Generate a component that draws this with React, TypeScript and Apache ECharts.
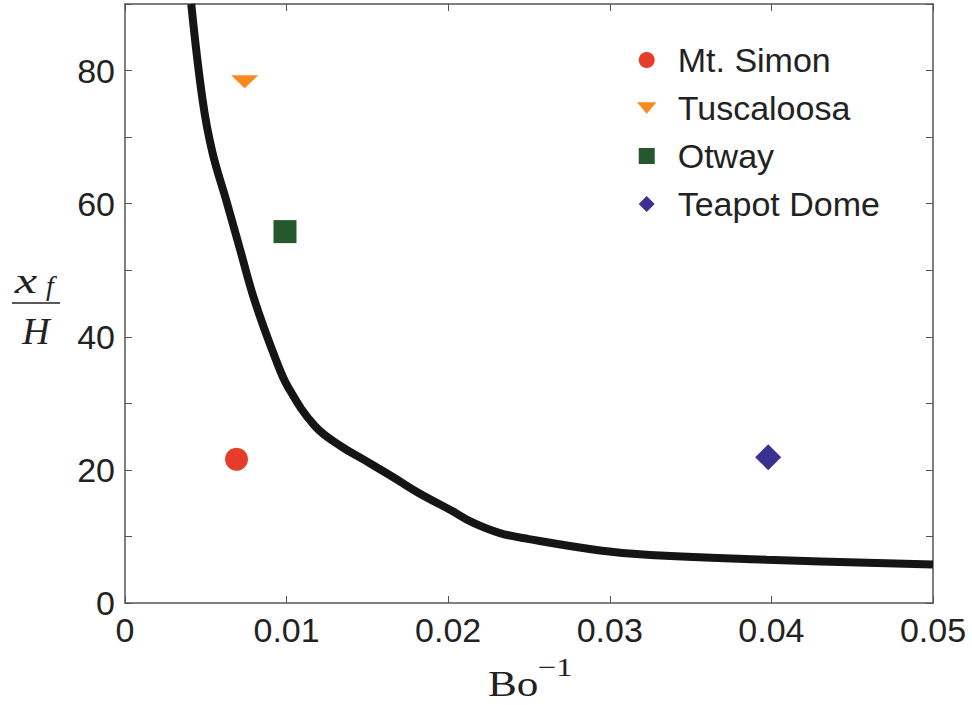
import React, { useEffect, useRef } from 'react';
import * as echarts from 'echarts';

// ---- data ----
const xTickLabels = [0, 0.01, 0.02, 0.03, 0.04, 0.05];
const yTickLabels = [0, 20, 40, 60, 80];

const curveX = [0.0041, 0.0048, 0.0054, 0.0063, 0.0071, 0.008, 0.0093, 0.0101, 0.01175, 0.0134, 0.0148, 0.0166, 0.0182, 0.0202, 0.0215, 0.0232, 0.025, 0.0294, 0.0325, 0.0397, 0.05];
const curveY = [90, 75.6, 67.8, 60.2, 53.3, 45.6, 36.8, 32.4, 26.6, 23.5, 21.5, 18.9, 16.5, 13.9, 12.1, 10.5, 9.6, 7.9, 7.2, 6.5, 5.8];

const siteNames = ['Mt. Simon', 'Tuscaloosa', 'Otway', 'Teapot Dome'];
const siteX = [0.0069, 0.0074, 0.0099, 0.0398];
const siteY = [21.6, 78.3, 55.8, 21.9];

const siteColors = ['#e53d2a', '#f8891e', '#24592e', '#3b3191'];
const siteSymbols = ['circle', 'path://M0,0L20,0L10,10Z', 'path://M0,0L10,0L10,10L0,10Z', 'path://M5,0L10,5L5,10L0,5Z'];
const siteSizes: any[] = [23, [27, 13], 23, 26];
const legendIcons = [
  'circle',
  'path://M0,0L0,0M17,14L17,14M0,2L17,2L8.5,12Z',
  'path://M0,0L10,0L10,10L0,10Z',
  'path://M5,0L10,5L5,10L0,5Z',
];

const SANS = '"Liberation Sans", Arial, Helvetica, sans-serif';
const SERIF = '"Liberation Serif", "Times New Roman", serif';
const AXIS_COLOR = '#555';

function makeAxisLine() {
  return { show: true, onZero: false, lineStyle: { color: AXIS_COLOR, width: 1.5 } };
}
function makeAxisTick() {
  return { show: true, inside: true, length: 7, lineStyle: { color: AXIS_COLOR, width: 1 } };
}

export default function App() {
  const ref = useRef<HTMLDivElement>(null);

  useEffect(() => {
    if (!ref.current) return;
    const chart = echarts.init(ref.current, undefined, { renderer: 'svg' });

    const option: any = {
      animation: false,
      backgroundColor: '#ffffff',
      grid: { left: 125, right: 39, top: 4, bottom: 102, containLabel: false, outerBoundsMode: 'none' },
      xAxis: [
        {
          type: 'value',
          position: 'bottom',
          min: 0,
          max: 0.05,
          interval: 0.01,
          axisLine: makeAxisLine(),
          axisTick: makeAxisTick(),
          splitLine: { show: false },
          axisLabel: {
            show: true,
            margin: 10,
            color: '#222',
            fontFamily: SANS,
            fontSize: 34,
            formatter: (v: number) => {
              const hit = xTickLabels.find((t) => Math.abs(t - v) < 1e-9);
              if (hit === undefined) return '';
              return hit === 0 ? '0' : hit.toFixed(2);
            },
          },
        },
        {
          type: 'value',
          position: 'top',
          min: 0,
          max: 0.05,
          interval: 0.01,
          axisLine: makeAxisLine(),
          axisTick: makeAxisTick(),
          splitLine: { show: false },
          axisLabel: { show: false },
        },
      ],
      yAxis: [
        {
          type: 'value',
          position: 'left',
          min: 0,
          max: 90,
          interval: 10,
          axisLine: makeAxisLine(),
          axisTick: makeAxisTick(),
          splitLine: { show: false },
          axisLabel: {
            show: true,
            margin: 10,
            color: '#222',
            fontFamily: SANS,
            fontSize: 34,
            formatter: (v: number) => (yTickLabels.indexOf(v) >= 0 ? String(v) : ''),
          },
        },
        {
          type: 'value',
          position: 'right',
          min: 0,
          max: 90,
          interval: 10,
          axisLine: makeAxisLine(),
          axisTick: makeAxisTick(),
          splitLine: { show: false },
          axisLabel: { show: false },
        },
      ],
      legend: {
        show: true,
        orient: 'vertical',
        left: 632,
        top: 38,
        itemWidth: 52,
        itemHeight: 16,
        itemGap: 14,
        symbolKeepAspect: true,
        textStyle: { fontFamily: SANS, fontSize: 34, color: '#222', lineHeight: 34 },
        data: siteNames.map((n, i) => ({ name: n, icon: legendIcons[i], itemStyle: { color: siteColors[i] } })),
      },
      series: [
        {
          type: 'line',
          name: 'curve',
          data: curveX.map((x, i) => [x, curveY[i]]),
          showSymbol: false,
          symbol: 'none',
          smooth: 0.4,
          clip: true,
          lineStyle: { color: '#151515', width: 8 },
          z: 2,
        },
        ...siteNames.map((n, i) => ({
          type: 'scatter',
          name: n,
          data: [[siteX[i], siteY[i]]],
          symbol: siteSymbols[i],
          symbolSize: siteSizes[i],
          itemStyle: { color: siteColors[i], opacity: 1 },
          z: 3,
        })),
      ],
      graphic: [
        { type: 'text', x: 26, y: 281, scaleX: 1.4, style: { text: 'x', font: `italic 36px ${SERIF}`, fill: '#222', textAlign: 'center', textVerticalAlign: 'middle' } },
        { type: 'text', x: 50, y: 285, style: { text: 'f', font: `italic 28px ${SERIF}`, fill: '#222', textAlign: 'center', textVerticalAlign: 'middle' } },
        { type: 'line', shape: { x1: 12, y1: 303, x2: 60, y2: 303 }, style: { stroke: '#222', lineWidth: 1.5 } },
        { type: 'text', x: 36, y: 331, style: { text: 'H', font: `italic 38px ${SERIF}`, fill: '#222', textAlign: 'center', textVerticalAlign: 'middle' } },
        { type: 'text', x: 488, y: 684, scaleX: 1.2, style: { text: 'Bo', font: `36px ${SERIF}`, fill: '#222', textAlign: 'left', textVerticalAlign: 'middle' } },
        { type: 'text', x: 538, y: 667, scaleX: 1.25, style: { text: '\u22121', font: `26px ${SERIF}`, fill: '#222', textAlign: 'left', textVerticalAlign: 'middle' } },
      ],
    };

    chart.setOption(option);
    return () => chart.dispose();
  }, []);

  return (
    <div
      ref={ref}
      style={{ position: 'fixed', left: 0, top: 0, width: 972, height: 705, background: '#fff' }}
    />
  );
}
